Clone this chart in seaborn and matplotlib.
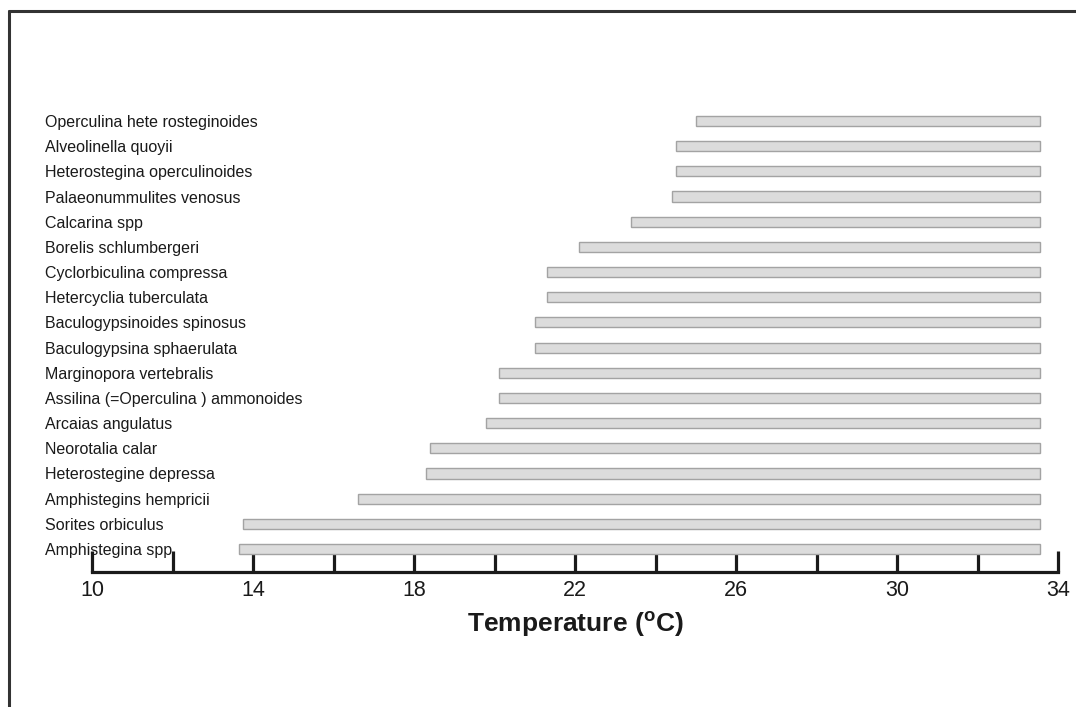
import matplotlib
matplotlib.use("Agg")
import matplotlib.pyplot as plt
from matplotlib.lines import Line2D
import seaborn as sns
import pandas as pd

species = [
    "Operculina hete rosteginoides",
    "Alveolinella quoyii",
    "Heterostegina operculinoides",
    "Palaeonummulites venosus",
    "Calcarina spp",
    "Borelis schlumbergeri",
    "Cyclorbiculina compressa",
    "Hetercyclia tuberculata",
    "Baculogypsinoides spinosus",
    "Baculogypsina sphaerulata",
    "Marginopora vertebralis",
    "Assilina (=Operculina ) ammonoides",
    "Arcaias angulatus",
    "Neorotalia calar",
    "Heterostegine depressa",
    "Amphistegins hempricii",
    "Sorites orbiculus",
    "Amphistegina spp",
]
t_min = [25.0, 24.5, 24.5, 24.4, 23.4, 22.1, 21.3, 21.3, 21.0, 21.0,
         20.1, 20.1, 19.8, 18.4, 18.3, 16.6, 13.75, 13.65]
t_max = [33.55] * 18

tick_values = [10, 12, 14, 16, 18, 20, 22, 24, 26, 28, 30, 32, 34]
tick_labels = ["10", "", "14", "", "18", "", "22", "", "26", "", "30", "", "34"]

df = pd.DataFrame({"species": species, "tmin": t_min, "tmax": t_max})
df["span"] = df["tmax"] - df["tmin"]

sns.set_style("white")
plt.rcParams["font.family"] = ["Liberation Sans", "DejaVu Sans"]

fig = plt.figure(figsize=(10.76, 7.07), dpi=100)
ax = fig.add_axes([92 / 1076, 1 - 572 / 707, (1058 - 92) / 1076, (572 - 100) / 707])

sns.barplot(data=df, x="span", y="species", order=species, orient="h",
            color="#dcdcdc", edgecolor="#a3a3a3", linewidth=1.0,
            width=0.4, errorbar=None, left=df["tmin"].values, ax=ax,
            saturation=1)

ax.set_xlim(10, 34)
ax.set_ylim(17.913, -0.834)

for s in ["top", "right", "left"]:
    ax.spines[s].set_visible(False)
ax.spines["bottom"].set_linewidth(2.3)
ax.spines["bottom"].set_color("#1a1a1a")

ax.set_xticks(tick_values)
ax.set_xticklabels(tick_labels, fontsize=15.5, color="#1a1a1a")
ax.tick_params(axis="x", direction="in", length=15, width=2.3, color="#1a1a1a", pad=6, bottom=True)
ax.tick_params(axis="y", length=0, pad=34, labelsize=11.5, labelcolor="#1a1a1a")
for lab in ax.get_yticklabels():
    lab.set_horizontalalignment("left")

ax.set_ylabel("")
ax.set_xlabel(r"Temperature ($^{\mathregular{o}}$C)", fontsize=19, fontweight="bold",
              color="#1a1a1a", labelpad=6)

# figure frame (left and top edges)
fig.add_artist(Line2D([9 / 1076, 9 / 1076], [0, 1 - 11 / 707], color="#333333", lw=2.2))
fig.add_artist(Line2D([9 / 1076, 1], [1 - 11 / 707, 1 - 11 / 707], color="#333333", lw=2.2))

fig.savefig("out.png", dpi=100)
